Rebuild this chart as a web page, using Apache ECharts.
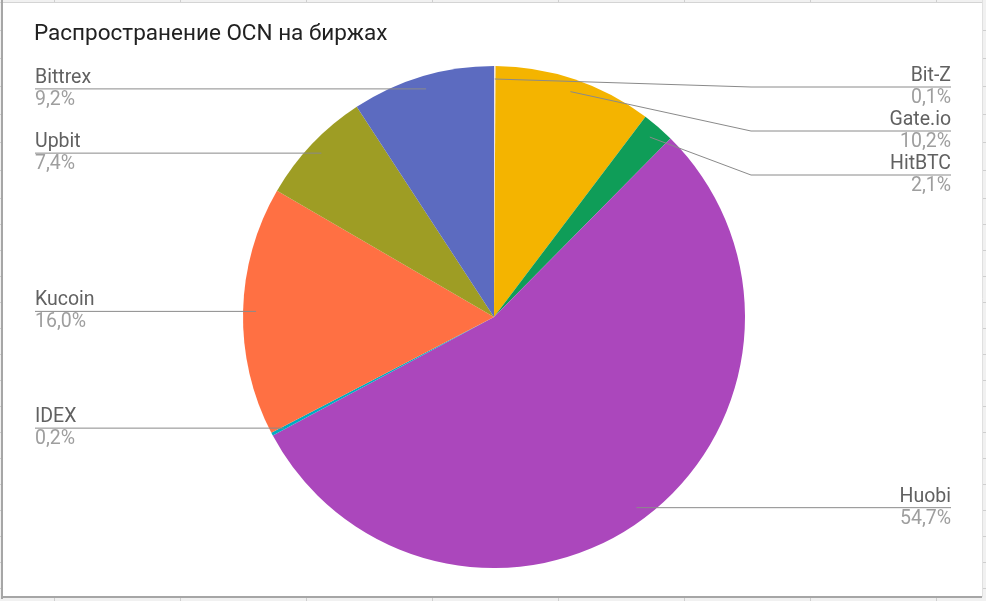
<!DOCTYPE html>
<html>
<head>
<meta charset="utf-8">
<script src="https://cdn.jsdelivr.net/npm/echarts@6/dist/echarts.min.js"></script>
<style>
html,body{margin:0;padding:0;background:#fff;}
#c{width:986px;height:601px;}
</style>
</head>
<body>
<div id="c"></div>
<script>
// ---- data ----
const chartTitle = 'Распространение OCN на биржах';
const exchanges = ['Bit-Z', 'Gate.io', 'HitBTC', 'Huobi', 'IDEX', 'Kucoin', 'Upbit', 'Bittrex'];
const shares = [0.1, 10.2, 2.1, 54.7, 0.2, 16.0, 7.4, 9.2];
const sliceColors = ['#ece2e4', '#f4b400', '#0f9d58', '#ab47bc', '#00acc1', '#ff7043', '#9e9d24', '#5c6bc0'];

// ---- decorative spreadsheet grid (layout only) ----
const rowLines = [30, 58, 86, 114, 142, 170, 198, 224, 250, 276, 302, 328, 354, 380, 406, 432, 458, 484, 510, 536, 562, 588];
const colLines = [54, 180, 306, 432, 558, 684, 810, 936];

// ---- layout constants ----
const W = 986, H = 601;
const CX = 494, CY = 317, R = 251, R_LABEL = 238, LABEL_TOP = 65;

const pieData = exchanges.map((n, i) => ({ name: n, value: shares[i], itemStyle: { color: sliceColors[i] } }));
const labelData = exchanges.map((n, i) => ({ name: n, value: shares[i] }));

function fmtPct(v) { return v.toFixed(1).replace('.', ',') + '%'; }

const graphics = [];
graphics.push({ type: 'rect', z: -10, silent: true, shape: { x: 0, y: 0, width: W, height: H }, style: { fill: '#f1f1f1' } });
graphics.push({ type: 'rect', z: -9, silent: true, shape: { x: 3, y: 3, width: 979, height: 594 }, style: { fill: '#ffffff' } });
rowLines.forEach(y => {
  graphics.push({ type: 'line', z: -8, silent: true, shape: { x1: 982, y1: y + 0.5, x2: W, y2: y + 0.5 }, style: { stroke: '#cfcfcf', lineWidth: 1 } });
  graphics.push({ type: 'line', z: -8, silent: true, shape: { x1: 0, y1: y + 0.5, x2: 2, y2: y + 0.5 }, style: { stroke: '#cfcfcf', lineWidth: 1 } });
});
colLines.forEach(x => {
  graphics.push({ type: 'line', z: -8, silent: true, shape: { x1: x + 0.5, y1: 0, x2: x + 0.5, y2: 2 }, style: { stroke: '#cfcfcf', lineWidth: 1 } });
  graphics.push({ type: 'line', z: -8, silent: true, shape: { x1: x + 0.5, y1: 598, x2: x + 0.5, y2: H }, style: { stroke: '#cfcfcf', lineWidth: 1 } });
});
graphics.push({ type: 'line', z: -7, silent: true, shape: { x1: 0, y1: 2.5, x2: 982, y2: 2.5 }, style: { stroke: '#d4d4d4', lineWidth: 1 } });
graphics.push({ type: 'line', z: -7, silent: true, shape: { x1: 982.5, y1: 0, x2: 982.5, y2: 597 }, style: { stroke: '#e0e0e0', lineWidth: 1 } });
graphics.push({ type: 'rect', z: -6, silent: true, shape: { x: 1, y: 0, width: 2, height: 599 }, style: { fill: '#a6a6a6' } });
graphics.push({ type: 'rect', z: -6, silent: true, shape: { x: 1, y: 596, width: 981, height: 2 }, style: { fill: '#a6a6a6' } });

const chart = echarts.init(document.getElementById('c'), null, { renderer: 'canvas' });
chart.setOption({
  animation: false,
  backgroundColor: 'transparent',
  textStyle: { fontFamily: 'Roboto' },
  graphic: graphics,
  title: {
    text: chartTitle,
    left: 34,
    top: 23,
    padding: 0,
    textStyle: { fontFamily: 'Roboto', fontSize: 22.5, fontWeight: 'normal', color: '#212121' }
  },
  series: [
    {
      type: 'pie',
      silent: true,
      left: 0, top: 0, width: W, height: H,
      center: [CX, CY],
      radius: R,
      startAngle: 90,
      clockwise: true,
      label: { show: false },
      labelLine: { show: false },
      itemStyle: { borderWidth: 0 },
      data: pieData
    },
    {
      type: 'pie',
      silent: true,
      z: 3,
      left: 0, top: LABEL_TOP, width: W, height: H - LABEL_TOP - 10,
      center: [CX, CY - LABEL_TOP],
      radius: R_LABEL,
      startAngle: 90,
      clockwise: true,
      avoidLabelOverlap: true,
      itemStyle: { color: 'rgba(0,0,0,0)', borderWidth: 0 },
      label: {
        show: true,
        alignTo: 'edge',
        edgeDistance: 35,
        bleedMargin: 0,
        distanceToLabelLine: 0,
        formatter: p => '{n|' + p.name + '}\n{v|' + fmtPct(p.value) + '}',
        rich: {
          n: { fontFamily: 'Roboto', fontSize: 19.5, color: '#616161', lineHeight: 22 },
          v: { fontFamily: 'Roboto', fontSize: 19.5, color: '#9e9e9e', lineHeight: 22 }
        }
      },
      labelLine: {
        show: true,
        length: 0,
        length2: 0,
        smooth: false,
        lineStyle: { color: '#8a8a8a', width: 1 }
      },
      labelLayout: function (p) {
        const pts = p.labelLinePoints;
        if (!pts || !pts.length) { return {}; }
        const r = p.labelRect;
        const y = r.y + r.height / 2;
        const start = pts[0];
        const right = (r.x + r.width / 2) > CX;
        const bendX = right ? CX + R + 6 : CX - R - 6;
        const farX = right ? r.x + r.width : r.x;
        return { labelLinePoints: [[start[0], start[1]], [bendX, y], [farX, y]] };
      },
      data: labelData
    }
  ]
});
</script>
</body>
</html>
